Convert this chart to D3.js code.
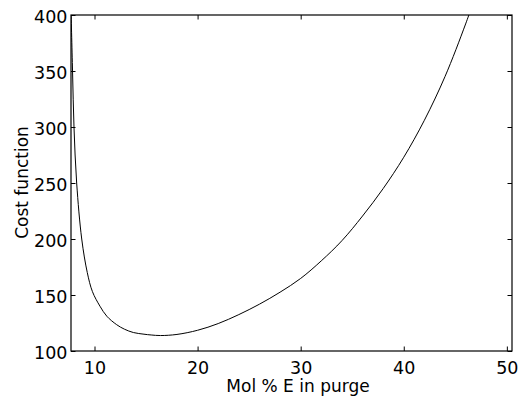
<!DOCTYPE html>
<html>
<head>
<meta charset="utf-8">
<script src="https://cdn.jsdelivr.net/npm/d3@7"></script>
<style>
  body { margin: 0; background: #fff; }
  text { font-family: "DejaVu Sans", sans-serif; fill: #000; }
</style>
</head>
<body>
<div id="chart"></div>
<script>
// values
var molPct = [7.72, 7.87, 8.01, 8.27, 8.76, 9.3, 9.8, 10.53, 11.2, 12.15, 12.9, 13.77, 14.8, 15.5, 16.4,
    18, 20, 22, 24, 26, 28, 30, 32, 34, 36, 38, 40, 42, 44, 46, 47];
var cost = [405, 350, 300, 250, 200, 170, 153, 140, 131, 123.5, 119.5, 116.5, 115.0, 114.3, 113.8,
    114.8, 118.5, 124.5, 132.5, 141.8, 152.5, 164.8, 180.5, 198.5, 220.5, 245, 273, 306, 345, 392, 418];

var xTicks = [10, 20, 30, 40, 50];
var yTicks = [100, 150, 200, 250, 300, 350, 400];

var width = 519, height = 402;
var margin = {top: 15, right: 7, bottom: 51, left: 71};

var svg = d3.select('#chart')
    .append('svg')
    .attr('width', width)
    .attr('height', height);

var x = d3.scaleLinear()
    .domain([7.72, 50.5])
    .range([margin.left, width - margin.right]);

var y = d3.scaleLinear()
    .domain([100, 400])
    .range([height - margin.bottom, margin.top]);

svg.append('clipPath')
    .attr('id', 'clip')
    .append('rect')
    .attr('x', margin.left)
    .attr('y', margin.top)
    .attr('width', width - margin.left - margin.right)
    .attr('height', height - margin.top - margin.bottom);

var line = d3.line()
    .x(function(d, i) { return x(molPct[i]); })
    .y(function(d) { return y(d); })
    .curve(d3.curveCatmullRom.alpha(0.5));

svg.append('path')
    .datum(cost)
    .attr('clip-path', 'url(#clip)')
    .attr('d', line)
    .attr('fill', 'none')
    .attr('stroke', '#000')
    .attr('stroke-width', 1);

// matlab style axes: inward ticks on all four sides
var tickLen = 4.5;

svg.append('g')
    .attr('transform', 'translate(0,' + (height - margin.bottom) + ')')
    .call(d3.axisBottom(x).tickValues(xTicks).tickSize(-tickLen).tickPadding(10.5));

svg.append('g')
    .attr('class', 'yaxis')
    .attr('transform', 'translate(' + margin.left + ',0)')
    .call(d3.axisLeft(y).tickValues(yTicks).tickSize(-tickLen).tickPadding(3.5));

svg.append('g')
    .attr('transform', 'translate(0,' + margin.top + ')')
    .call(d3.axisTop(x).tickValues(xTicks).tickSize(-tickLen).tickFormat(''));

svg.append('g')
    .attr('transform', 'translate(' + (width - margin.right) + ',0)')
    .call(d3.axisRight(y).tickValues(yTicks).tickSize(-tickLen).tickFormat(''));

svg.selectAll('.domain').remove();
svg.selectAll('.tick line').attr('stroke', '#000');
svg.selectAll('.tick text')
    .style('font-size', '17.5px')
    .style('font-family', '"DejaVu Sans", sans-serif');
svg.selectAll('.yaxis .tick text').attr('dy', '0.44em');

svg.append('rect')
    .attr('x', margin.left)
    .attr('y', margin.top)
    .attr('width', width - margin.left - margin.right)
    .attr('height', height - margin.top - margin.bottom)
    .attr('fill', 'none')
    .attr('stroke', '#000')
    .attr('stroke-width', 1.2);

svg.append('text')
    .attr('x', 298)
    .attr('y', 392)
    .attr('text-anchor', 'middle')
    .style('font-size', '17px')
    .text('Mol % E in purge');

svg.append('text')
    .attr('transform', 'translate(27.5,' + 182.5 + ') rotate(-90)')
    .attr('text-anchor', 'middle')
    .style('font-size', '17px')
    .text('Cost function');
</script>
</body>
</html>
